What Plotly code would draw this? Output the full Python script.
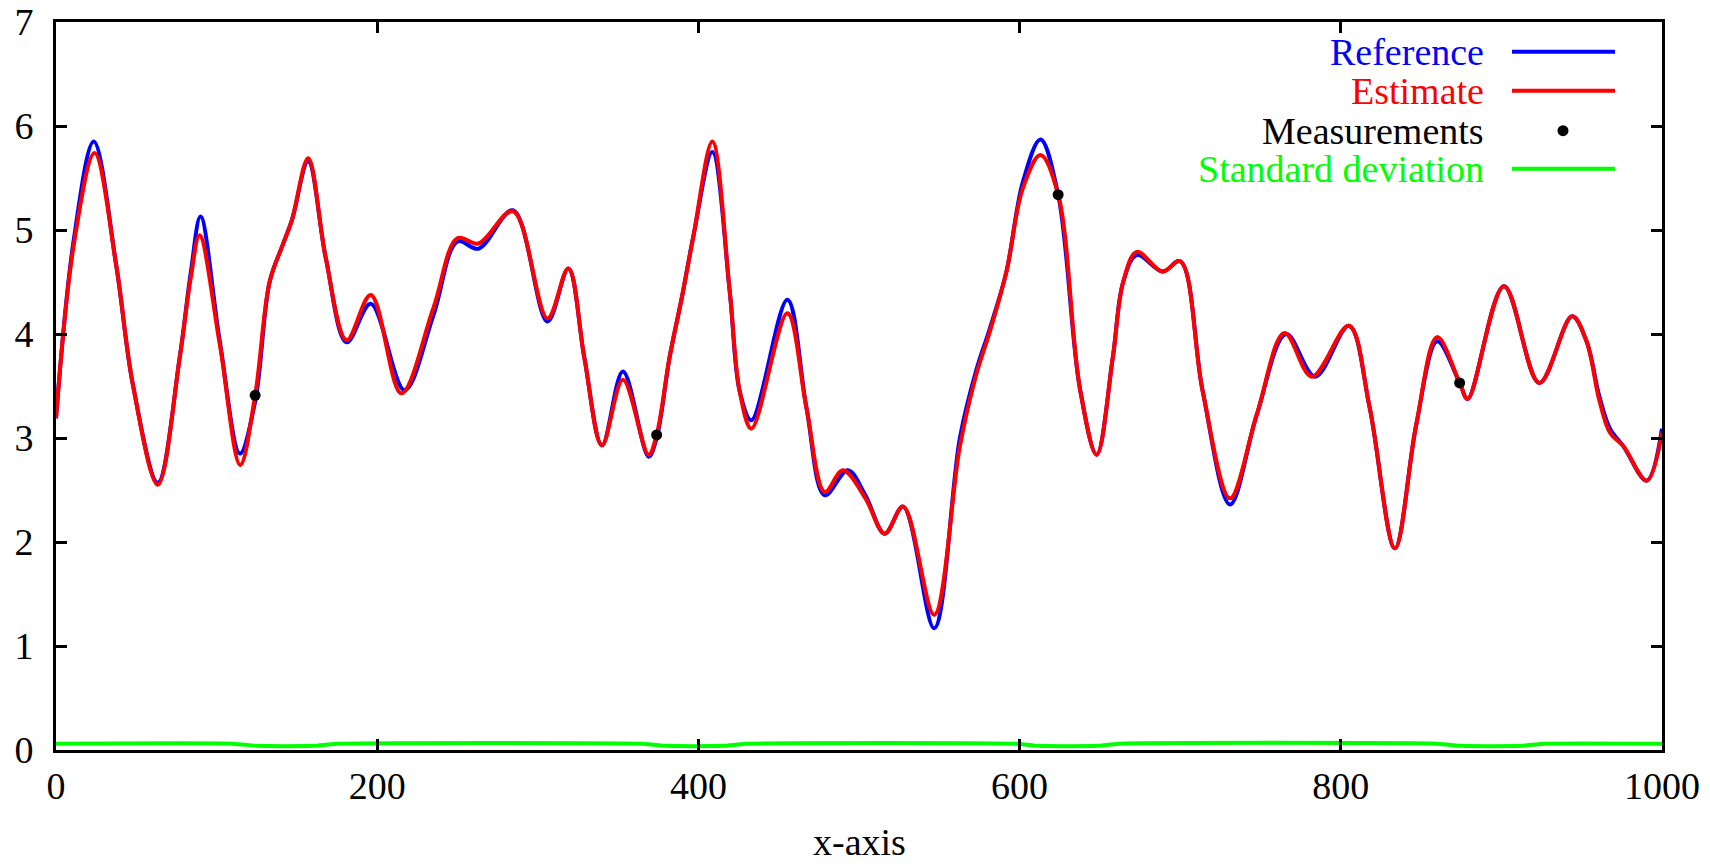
import plotly.graph_objects as go

# ---- data ----
x_ref = [0, 11, 23.5, 37.5, 47.9, 63.4, 77, 84, 90, 102, 114.5, 124, 133, 141, 147, 157, 168, 181,
         196, 217, 235, 250, 263, 284.5, 306, 319, 329, 340, 353, 369, 374, 382, 390, 397, 408.7, 419.5,
         425.7, 433, 455.4, 467.3, 478.7, 493, 504, 516, 527.5, 546.8, 562.8, 573, 581.4,
         591.8, 602, 613, 624, 637.5, 648, 658, 664.5, 673, 689, 700, 714, 731, 747.6, 766, 784, 805, 818,
         833.7, 847, 860, 874, 879, 901.6, 923.6, 944, 953, 961, 967.6, 976, 990.5, 1000]
y_ref = [3.19, 4.9, 5.85, 4.66, 3.51, 2.57, 3.77, 4.6, 5.13, 3.93, 2.85, 3.35, 4.50, 4.85, 5.1, 5.66, 4.73, 3.92,
         4.29, 3.46, 4.18, 4.89, 4.82, 5.19, 4.12, 4.63, 3.77, 2.93, 3.64, 2.82, 3.0, 3.77, 4.375, 4.95, 5.75, 4.41,
         3.45, 3.17, 4.33, 3.29, 2.45, 2.69, 2.45, 2.08, 2.34, 1.17, 3.0, 3.65, 4.05,
         4.6, 5.46, 5.87, 5.34, 3.48, 2.84, 3.77, 4.5, 4.76, 4.6, 4.70, 3.45, 2.36, 3.22, 4.0, 3.59, 4.08, 3.29,
         1.94, 3.13, 3.93, 3.53, 3.375, 4.46, 3.53, 4.17, 3.93, 3.40, 3.09, 2.92, 2.59, 3.09]

x_est = [0, 11, 24, 37.5, 47.9, 63.4, 77, 84, 89.4, 102, 114.7, 124, 133, 141, 147, 157, 168, 181,
         196, 215, 235, 250, 263, 284.5, 306, 319, 329, 340, 353, 369, 374, 382, 390, 397, 408.7, 419.5,
         425.7, 433, 455.4, 467.3, 478.7, 490, 504, 516, 527.5, 546.8, 562.8, 573, 581.4,
         591.8, 602, 613, 624, 637.5, 648, 658, 664.5, 673, 689, 700, 714, 731, 747.6, 765, 782, 805, 818,
         833.7, 847, 860, 874, 879, 901.6, 923.6, 944, 953, 961, 967.6, 976, 990.5, 1000]
y_est = [3.19, 4.85, 5.74, 4.66, 3.51, 2.55, 3.77, 4.55, 4.95, 3.9, 2.74, 3.41, 4.50, 4.85, 5.1, 5.69, 4.73, 3.94,
         4.375, 3.43, 4.25, 4.92, 4.87, 5.18, 4.15, 4.63, 3.77, 2.93, 3.56, 2.84, 3.03, 3.77, 4.375, 4.95, 5.85, 4.41,
         3.45, 3.09, 4.2, 3.29, 2.48, 2.69, 2.42, 2.08, 2.34, 1.30, 2.92, 3.61, 4.02,
         4.6, 5.40, 5.72, 5.34, 3.48, 2.84, 3.77, 4.5, 4.79, 4.6, 4.70, 3.45, 2.42, 3.22, 4.01, 3.59, 4.08, 3.29,
         1.94, 3.13, 3.97, 3.53, 3.375, 4.46, 3.53, 4.17, 3.93, 3.36, 3.05, 2.92, 2.59, 3.05]

x_meas = [124, 374, 624, 874]
y_meas = [3.41, 3.03, 5.34, 3.53]

x_std = [0, 110, 125, 160, 175, 365, 380, 415, 430, 598, 612, 648, 662, 860, 875, 912, 927, 1000]
y_std = [0.06, 0.06, 0.04, 0.04, 0.06, 0.06, 0.04, 0.04, 0.06, 0.06, 0.04, 0.04, 0.06, 0.06, 0.04, 0.04, 0.06, 0.06]

legend_names = ["Reference", "Estimate", "Measurements", "Standard deviation"]
legend_colors = ["#0000ff", "#ff0000", "#000000", "#00ff00"]
x_title = "x-axis"

FONT = "Liberation Serif"
FS = 38
LW = 4

fig = go.Figure()
fig.add_trace(go.Scatter(x=x_std, y=y_std, mode="lines", line=dict(color="#00ff00", width=LW, shape="spline", smoothing=0.6),
                         name=legend_names[3], showlegend=False))
fig.add_trace(go.Scatter(x=x_ref, y=y_ref, mode="lines", line=dict(color="#0000ff", width=LW, shape="spline", smoothing=1.0),
                         name=legend_names[0], showlegend=False))
fig.add_trace(go.Scatter(x=x_est, y=y_est, mode="lines", line=dict(color="#ff0000", width=LW, shape="spline", smoothing=1.0),
                         name=legend_names[1], showlegend=False))
fig.add_trace(go.Scatter(x=x_meas, y=y_meas, mode="markers", marker=dict(color="black", size=11),
                         name=legend_names[2], showlegend=False))

# plot area in pixels
L, W, T, H = 56, 1606, 22, 728
def px2paper(px, py):
    return (px - L) / W, (T + H - py) / H

rows_py = [51.7, 90.7, 130.7, 168.7]
text_x, _ = px2paper(1486, 0)
line_x0, _ = px2paper(1512, 0)
line_x1, _ = px2paper(1615, 0)
dot_x, _ = px2paper(1563, 0)
annotations = []
shapes = []
for name, col, py in zip(legend_names, legend_colors, rows_py):
    _, yp = px2paper(0, py)
    annotations.append(dict(x=text_x, y=yp, xref="paper", yref="paper", text=name, showarrow=False,
                            xanchor="right", yanchor="middle", font=dict(family=FONT, size=FS, color=col)))
    if name == "Measurements":
        shapes.append(dict(type="circle", xref="paper", yref="paper", xsizemode="pixel", ysizemode="pixel",
                           xanchor=dot_x, yanchor=yp, x0=-5.5, x1=5.5, y0=-5.5, y1=5.5,
                           fillcolor="black", line=dict(width=0)))
    else:
        shapes.append(dict(type="line", xref="paper", yref="paper", x0=line_x0, x1=line_x1, y0=yp, y1=yp,
                           line=dict(color=col, width=LW)))

# x-axis title as annotation (centered under plot)
tx, ty = px2paper(859, 842)
annotations.append(dict(x=0.5, y=ty, xref="paper", yref="paper", text=x_title, showarrow=False,
                        xanchor="center", yanchor="middle", font=dict(family=FONT, size=FS, color="black")))

axis_common = dict(showgrid=False, zeroline=False, showline=True, linecolor="black", linewidth=3,
                   mirror="ticks", ticks="inside", ticklen=11, tickwidth=3, tickcolor="black",
                   automargin=False,
                   tickfont=dict(family=FONT, size=FS, color="black"))

fig.update_layout(
    template="none",
    width=1710, height=866, autosize=False,
    margin=dict(l=L, r=1710 - L - W, t=T, b=866 - T - H, pad=0),
    paper_bgcolor="white", plot_bgcolor="white",
    showlegend=False,
    xaxis=dict(range=[0, 1000], tickmode="linear", tick0=0, dtick=200, **axis_common),
    yaxis=dict(range=[0, 7], tickmode="linear", tick0=0, dtick=1, ticklabelstandoff=12, **axis_common),
    annotations=annotations, shapes=shapes,
)

fig.write_html("out.html", config={"displayModeBar": False},
               post_script="document.body.style.margin='0';document.body.style.overflow='hidden';")
